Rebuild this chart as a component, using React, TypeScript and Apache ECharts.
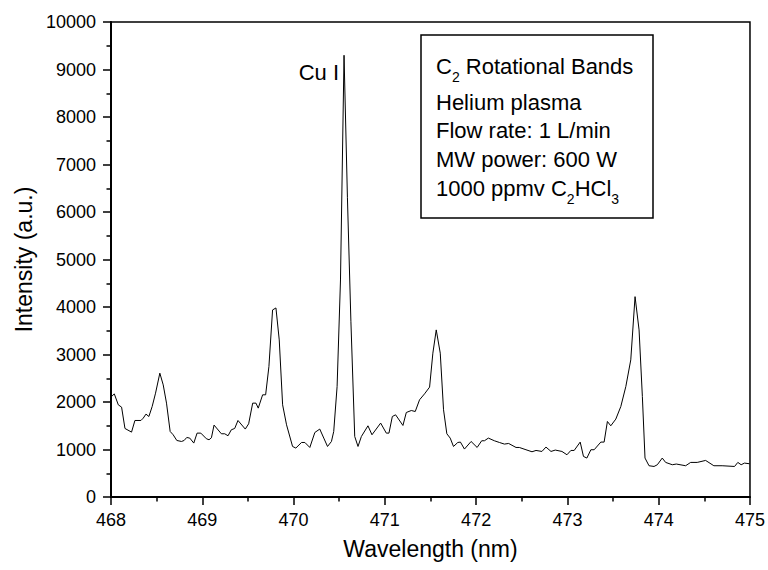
import React, { useEffect, useRef } from "react";
import * as echarts from "echarts";

const wavelength: number[] = [
  468.007, 468.036, 468.08, 468.116, 468.153, 468.225, 468.262, 468.328, 468.353, 468.383,
  468.415, 468.451, 468.488, 468.535, 468.572, 468.608, 468.648, 468.681, 468.721, 468.772,
  468.801, 468.83, 468.863, 468.907, 468.943, 468.984, 469.045, 469.074, 469.1, 469.129,
  469.209, 469.246, 469.282, 469.318, 469.355, 469.391, 469.471, 469.508, 469.552, 469.588,
  469.613, 469.661, 469.694, 469.73, 469.77, 469.807, 469.843, 469.88, 469.923, 469.989,
  470.025, 470.087, 470.124, 470.178, 470.233, 470.287, 470.331, 470.372, 470.415, 470.44,
  470.477, 470.514, 470.553, 470.59, 470.628, 470.67, 470.706, 470.743, 470.815, 470.859,
  470.954, 471.016, 471.045, 471.082, 471.118, 471.198, 471.235, 471.29, 471.333, 471.38,
  471.435, 471.49, 471.526, 471.563, 471.607, 471.643, 471.679, 471.716, 471.752, 471.799,
  471.828, 471.872, 471.945, 472.011, 472.061, 472.091, 472.134, 472.2, 472.255, 472.31,
  472.356, 472.437, 472.473, 472.546, 472.612, 472.656, 472.721, 472.765, 472.82, 472.867,
  472.94, 472.995, 473.038, 473.074, 473.14, 473.176, 473.213, 473.257, 473.293, 473.366,
  473.402, 473.438, 473.475, 473.53, 473.585, 473.64, 473.694, 473.741, 473.785, 473.821,
  473.85, 473.894, 473.949, 473.985, 474.039, 474.076, 474.149, 474.193, 474.295, 474.35,
  474.422, 474.514, 474.604, 474.695, 474.831, 474.867, 474.903, 474.94, 474.995,
];

const intensity: number[] = [
  2115, 2172, 1940, 1892, 1443, 1366, 1611, 1611, 1660, 1745,
  1695, 1905, 2186, 2607, 2361, 1976, 1380, 1310, 1190, 1169,
  1190, 1253, 1240, 1135, 1345, 1345, 1226, 1205, 1247, 1514,
  1331, 1331, 1289, 1415, 1443, 1611, 1430, 1541, 1976, 1976,
  1871, 2151, 2151, 2746, 3938, 3980, 3307, 1941, 1520, 1064,
  1030, 1148, 1148, 1043, 1358, 1430, 1240, 1064, 1169, 1380,
  2326, 4569, 9300, 6300, 3700, 1274, 1064, 1274, 1499, 1310,
  1556, 1345, 1345, 1695, 1730, 1506, 1779, 1821, 1800, 2046,
  2172, 2313, 3028, 3518, 3028, 1836, 1331, 1240, 1064, 1148,
  1156, 1009, 1169, 1043, 1184, 1184, 1240, 1184, 1148, 1114,
  1127, 1043, 1043, 995, 952, 980, 959, 1051, 959, 988,
  959, 889, 980, 980, 1156, 854, 820, 995, 995, 1156,
  1156, 1590, 1499, 1640, 1905, 2326, 2887, 4218, 3518, 2115,
  820, 658, 643, 679, 820, 728, 679, 694, 658, 728,
  728, 770, 658, 658, 643, 728, 679, 714, 700,
];

const xTitle = "Wavelength (nm)";
const yTitle = "Intensity (a.u.)";
const peakLabel = "Cu I";
const infoLines: string[] = ["Helium plasma", "Flow rate: 1 L/min", "MW power: 600 W"];
// annotation lines with subscripts: [text, isSubscript]
const titleParts: [string, boolean][] = [["C", false], ["2", true], [" Rotational Bands", false]];
const sampleParts: [string, boolean][] = [["1000 ppmv C", false], ["2", true], ["HCl", false], ["3", true]];

const FONT = "'Liberation Sans', Arial, sans-serif";
const MAIN_SIZE = 22;
const SUB_SIZE = 14;

function measure(text: string, size: number): number {
  const c = document.createElement("canvas");
  const ctx = c.getContext("2d");
  if (!ctx) return text.length * size * 0.55;
  ctx.font = `${size}px ${FONT}`;
  return ctx.measureText(text).width;
}

function partsToGraphics(parts: [string, boolean][], x0: number, cy: number) {
  const out: any[] = [];
  let x = x0;
  for (const [t, sub] of parts) {
    const size = sub ? SUB_SIZE : MAIN_SIZE;
    out.push({
      type: "text",
      x,
      y: sub ? cy + 11 : cy,
      z: 11,
      style: {
        text: t,
        fontSize: size,
        fontFamily: FONT,
        fill: "#000",
        verticalAlign: "middle",
        align: "left",
      },
    });
    x += measure(t, size);
  }
  return out;
}

export default function App() {
  const ref = useRef<HTMLDivElement>(null);

  useEffect(() => {
    if (!ref.current) return;
    const chart = echarts.init(ref.current, null, { renderer: "svg" });
    const data = wavelength.map((w, i) => [w, intensity[i]]);

    chart.setOption({
      animation: false,
      backgroundColor: "#fff",
      grid: {
        left: 111,
        right: 17,
        top: 22,
        bottom: 73,
        show: true,
        borderColor: "#000",
        borderWidth: 1.5,
        backgroundColor: "transparent",
      },
      xAxis: {
        type: "value",
        min: 468,
        max: 475,
        interval: 1,
        name: xTitle,
        nameLocation: "middle",
        nameGap: 40,
        nameTextStyle: { fontSize: 23, fontFamily: FONT, color: "#000" },
        axisLine: { show: true, onZero: false, lineStyle: { color: "#000", width: 2 } },
        axisTick: { show: true, length: 8, lineStyle: { color: "#000", width: 1.5 } },
        minorTick: { show: true, splitNumber: 2, length: 4.5, lineStyle: { color: "#000", width: 1.5 } },
        splitLine: { show: false },
        axisLabel: { fontSize: 18, fontFamily: FONT, color: "#000", margin: 14, formatter: (v: number) => String(v) },
      },
      yAxis: {
        type: "value",
        min: 0,
        max: 10000,
        interval: 1000,
        name: yTitle,
        nameLocation: "middle",
        nameGap: 76,
        nameTextStyle: { fontSize: 23, fontFamily: FONT, color: "#000" },
        axisLine: { show: true, lineStyle: { color: "#000", width: 2 } },
        axisTick: { show: true, length: 8, lineStyle: { color: "#000", width: 1.5 } },
        minorTick: { show: true, splitNumber: 2, length: 4.5, lineStyle: { color: "#000", width: 1.5 } },
        splitLine: { show: false },
        axisLabel: { fontSize: 18, fontFamily: FONT, color: "#000", margin: 15, formatter: (v: number) => String(v) },
      },
      series: [
        {
          type: "line",
          data,
          symbol: "none",
          lineStyle: { color: "#000", width: 1 },
          z: 3,
        },
      ],
      graphic: [
        {
          type: "rect",
          shape: { x: 421, y: 35, width: 232, height: 183 },
          style: { fill: "#fff", stroke: "#000", lineWidth: 1.5 },
          z: 10,
        },
        ...partsToGraphics(titleParts, 436, 66),
        ...infoLines.map((t, i) => ({
          type: "text",
          x: 436,
          y: [102, 130, 159][i],
          z: 11,
          style: {
            text: t,
            fontSize: MAIN_SIZE,
            fontFamily: FONT,
            fill: "#000",
            verticalAlign: "middle",
            align: "left",
          },
        })),
        ...partsToGraphics(sampleParts, 436, 188),
        {
          type: "text",
          x: 339,
          y: 72,
          z: 11,
          style: {
            text: peakLabel,
            fontSize: MAIN_SIZE,
            fontFamily: FONT,
            fill: "#000",
            verticalAlign: "middle",
            align: "right",
          },
        },
      ],
    });
    return () => chart.dispose();
  }, []);

  return (
    <div
      ref={ref}
      style={{ position: "fixed", left: 0, top: 0, width: 768, height: 570, background: "#fff" }}
    />
  );
}
